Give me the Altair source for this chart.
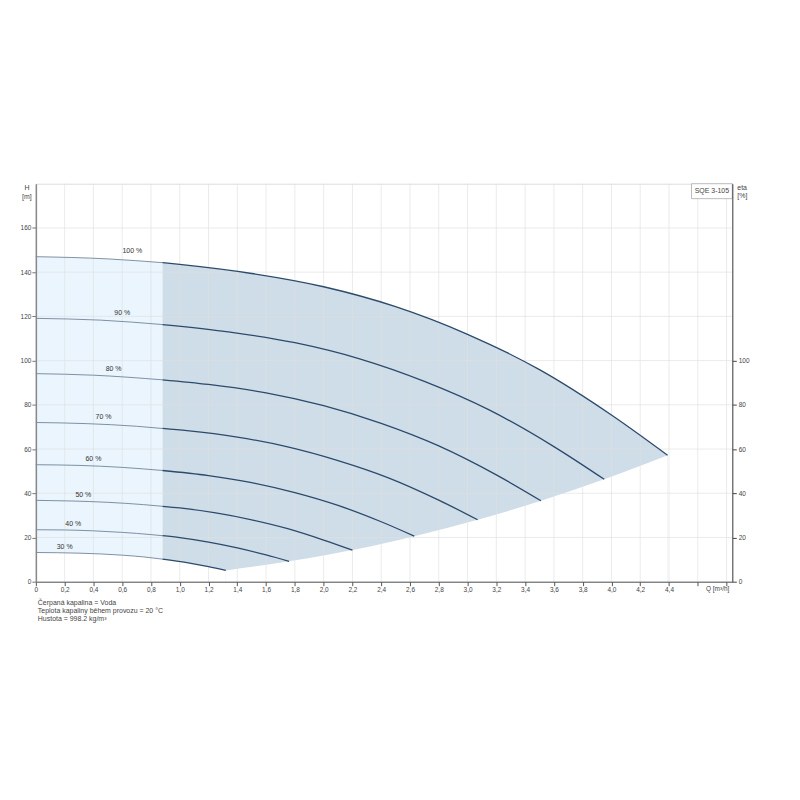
import altair as alt
import pandas as pd

FONT = "Liberation Sans"

# ---- data ----
speed_labels = ["100 %", "90 %", "80 %", "70 %", "60 %", "50 %", "40 %", "30 %"]

q100 = [0, 0.5, 0.88, 1.0, 1.5, 2.0, 2.5, 3.0, 3.5, 4.0, 4.39]
h100 = [147.0, 146.0, 144.3, 143.5, 139.4, 133.4, 124.4, 111.9, 95.9, 75.4, 57.2]
q90 = [0, 0.45, 0.88, 1.35, 1.8, 2.25, 2.7, 3.15, 3.6, 3.95]
h90 = [119.1, 118.3, 116.3, 112.9, 108.1, 100.8, 90.6, 77.7, 61.1, 46.3]
q80 = [0, 0.4, 0.88, 1.2, 1.6, 2.0, 2.4, 2.8, 3.2, 3.51]
h80 = [94.1, 93.4, 91.3, 89.2, 85.4, 79.6, 71.6, 61.4, 48.3, 36.6]
q70 = [0, 0.35, 0.7, 0.88, 1.05, 1.4, 1.75, 2.1, 2.45, 2.8, 3.07]
h70 = [72.0, 71.5, 70.3, 69.3, 68.3, 65.4, 61.0, 54.8, 47.0, 36.9, 28.0]
q60 = [0, 0.3, 0.6, 0.88, 1.2, 1.5, 1.8, 2.1, 2.4, 2.63]
h60 = [52.9, 52.6, 51.7, 50.3, 48.0, 44.8, 40.3, 34.5, 27.1, 20.6]
q50 = [0, 0.25, 0.5, 0.75, 0.88, 1.0, 1.25, 1.5, 1.75, 2.0, 2.2]
h50 = [36.8, 36.5, 35.9, 34.85, 34.1, 33.35, 31.1, 28.0, 24.0, 18.85, 14.3]
q40 = [0, 0.2, 0.4, 0.6, 0.8, 0.88, 1.0, 1.2, 1.4, 1.6, 1.76]
h40 = [23.5, 23.4, 23.0, 22.3, 21.3, 20.8, 19.9, 17.9, 15.3, 12.1, 9.2]
q30 = [0, 0.15, 0.3, 0.45, 0.6, 0.75, 0.88, 1.05, 1.2, 1.32]
h30 = [13.2, 13.1, 12.9, 12.55, 12.0, 11.2, 10.2, 8.6, 6.8, 5.1]

split_q = 0.88  # end of the light (low-flow) region

label_q = [0.67, 0.60, 0.54, 0.47, 0.40, 0.33, 0.26, 0.20]
label_h = [149.5, 121.5, 96.4, 74.5, 55.4, 39.3, 26.1, 15.8]

q_ticks = [0, 0.2, 0.4, 0.6, 0.8, 1.0, 1.2, 1.4, 1.6, 1.8, 2.0, 2.2, 2.4,
           2.6, 2.8, 3.0, 3.2, 3.4, 3.6, 3.8, 4.0, 4.2, 4.4, 4.6, 4.8]
h_ticks = [0, 20, 40, 60, 80, 100, 120, 140, 160]
eta_ticks = [0, 20, 40, 60, 80, 100]
h_grid = [20, 40, 60, 80, 100, 120, 140, 160]

notes = ["Čerpaná kapalina = Voda",
         "Teplota kapaliny během provozu = 20 °C",
         "Hustota = 998.2 kg/m³"]

# ---- tables ----
curve_q = [q100, q90, q80, q70, q60, q50, q40, q30]
curve_h = [h100, h90, h80, h70, h60, h50, h40, h30]

rows = []
for lab, qs, hs in zip(speed_labels, curve_q, curve_h):
    for q, h in zip(qs, hs):
        if q <= split_q:
            rows.append({"curve": lab, "seg": "left", "q": q, "h": h})
        if q >= split_q:
            rows.append({"curve": lab, "seg": "right", "q": q, "h": h})
lines_df = pd.DataFrame(rows)
top_left_df = lines_df[(lines_df["curve"] == "100 %") & (lines_df["seg"] == "left")].reset_index(drop=True)
top_right_df = lines_df[(lines_df["curve"] == "100 %") & (lines_df["seg"] == "right")].reset_index(drop=True)

# lower boundary: 30 % curve, then the envelope through the end points of all curves
low_df = pd.DataFrame({"q": q30, "h": h30})
env_df = pd.DataFrame({"q": [qs[-1] for qs in curve_q[::-1]],
                       "h": [hs[-1] for hs in curve_h[::-1]]})

labels_df = pd.DataFrame({"q": label_q, "h": label_h, "t": speed_labels})
vgrid_df = pd.DataFrame({"q": q_ticks[1:]})
hgrid_df = pd.DataFrame({"h": h_grid})

# ---- encodings ----
x_scale = alt.Scale(domain=[0, 4.84], nice=False, zero=False)
y_scale = alt.Scale(domain=[0, 180], nice=False)

x_axis = alt.Axis(values=q_ticks, grid=False, title=None, tickSize=4,
                  tickColor="#555", domainColor="#555", domainWidth=1,
                  labelFontSize=6.5, labelColor="#444", labelPadding=1,
                  labelFont=FONT, labelFlush=False, zindex=1,
                  labelExpr="datum.value > 4.5 ? '' : (datum.value == 0 ? '0' : replace(format(datum.value, '.1f'), '.', ','))")
X = alt.X("q:Q", scale=x_scale, axis=x_axis)
Y = alt.Y("h:Q", scale=y_scale, axis=None)
Y_area = alt.Y("h:Q", scale=y_scale, axis=None, stack=None)
Y_left = alt.Y("h:Q", scale=y_scale,
               axis=alt.Axis(values=h_ticks, grid=False, title=None, tickSize=4,
                             tickColor="#777", domainColor="#888", domainWidth=1.5,
                             labelFontSize=6.5, labelColor="#444", labelPadding=1,
                             labelFont=FONT, zindex=1))
Y_right = alt.Y("h:Q", scale=y_scale,
                axis=alt.Axis(values=eta_ticks, grid=False, title=None, orient="right",
                              tickSize=4, tickColor="#444", domainColor="#444",
                              domainWidth=1, labelFontSize=6.5, labelColor="#444",
                              labelPadding=2, labelFont=FONT, zindex=1))

light_area = alt.Chart(top_left_df).mark_area(interpolate="monotone").encode(
    x=X, y=Y_area, color=alt.value("#eaf5fd"))
dark_area = alt.Chart(top_right_df).mark_area(interpolate="monotone").encode(
    x=X, y=Y_area, color=alt.value("#cfdde8"))
cover_low = alt.Chart(low_df).mark_area(interpolate="monotone").encode(
    x=X, y=Y_area, color=alt.value("#ffffff"))
cover_env = alt.Chart(env_df).mark_area(interpolate="monotone").encode(
    x=X, y=Y_area, color=alt.value("#ffffff"))

vgrid = alt.Chart(vgrid_df).mark_rule(color="#e0e0e0", strokeWidth=0.8, opacity=0.8).encode(x=X)
hgrid = alt.Chart(hgrid_df).mark_rule(color="#e0e0e0", strokeWidth=0.8, opacity=0.8).encode(y=Y_right)

left_lines = alt.Chart(lines_df).transform_filter("datum.seg == 'left'").mark_line(
    interpolate="monotone", color="#62768d", strokeWidth=0.8).encode(
    x=X, y=Y_left, detail="curve:N", order="q:Q")
right_lines = alt.Chart(lines_df).transform_filter("datum.seg == 'right'").mark_line(
    interpolate="monotone", color="#2b4a6c", strokeWidth=1.3).encode(
    x=X, y=Y, detail="curve:N", order="q:Q")

pct_text = alt.Chart(labels_df).mark_text(
    font=FONT, fontSize=7, color="#333", align="center", baseline="middle").encode(
    x=X, y=Y, text="t:N")


def note(text, x, y, align="left", size=7, color="#444"):
    return alt.Chart(pd.DataFrame({"t": [text]})).mark_text(
        font=FONT, fontSize=size, color=color, align=align, baseline="middle").encode(
        text="t:N", x=alt.value(x), y=alt.value(y))


box = alt.Chart(pd.DataFrame({"t": ["SQE 3-105"]})).mark_rect(
    fill="white", stroke="#aaaaaa", strokeWidth=0.8).encode(
    x=alt.value(659), x2=alt.value(700), y=alt.value(0), y2=alt.value(15))

layers = [light_area, dark_area, cover_low, cover_env, vgrid, hgrid, left_lines, right_lines,
          pct_text, box,
          note("SQE 3-105", 679.5, 7.5, align="center", size=7),
          note("H", -9, 4.5, align="center", size=7),
          note("[m]", -9, 13.5, align="center", size=7),
          note("eta", 705, 4.5, size=7),
          note("[%]", 705, 12.5, size=7),
          note("Q [m³/h]", 697, 407.5, align="right", size=6.5),
          note(notes[0], 2, 421),
          note(notes[1], 2, 429.5),
          note(notes[2], 2, 438)]

chart = alt.layer(*layers).resolve_scale(y="shared").resolve_axis(y="independent").properties(
    width=700, height=400,
    padding={"left": 28, "top": 175, "right": 60, "bottom": 60},
    autosize=alt.AutoSizeParams(type="none"),
).configure_view(stroke="#d6d6d6", strokeWidth=1).configure(background="white")

chart.save("out.html", embed_options={"renderer": "svg", "actions": False})
